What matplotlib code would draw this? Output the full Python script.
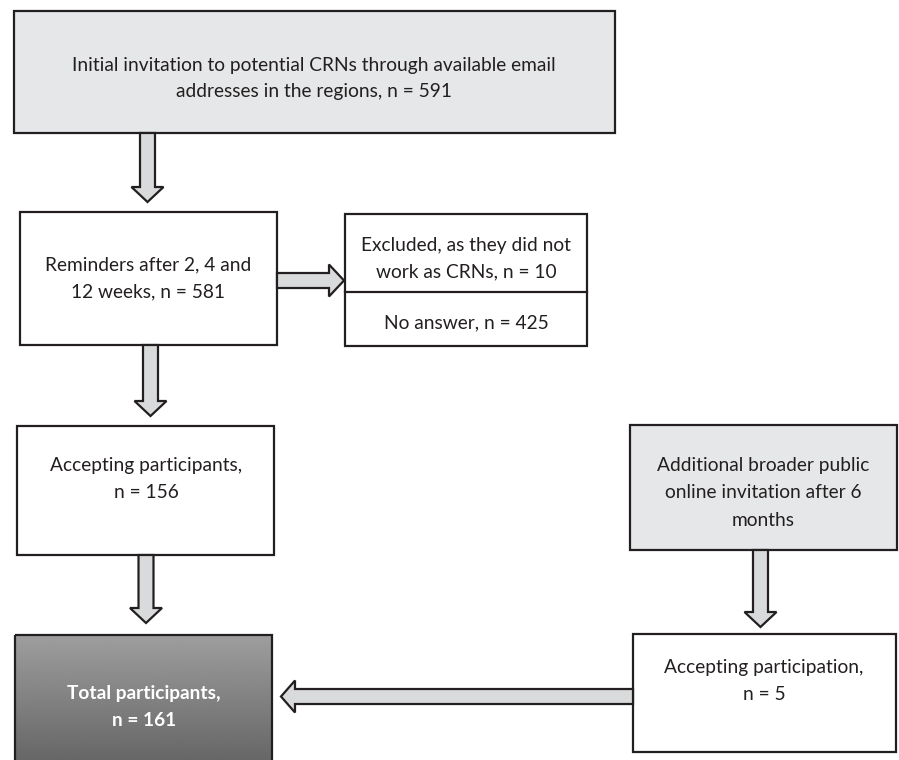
import numpy as np
import matplotlib.pyplot as plt
from matplotlib.patches import Rectangle, Polygon

plt.rcParams['font.family'] = ['Lato', 'DejaVu Sans']

# box texts
txt_initial = ["Initial invitation to potential CRNs through available email",
               "addresses in the regions, n = 591"]
txt_remind = ["Reminders after 2, 4 and", "12 weeks, n = 581"]
txt_excluded = ["Excluded, as they did not", "work as CRNs, n = 10"]
txt_noanswer = ["No answer, n = 425"]
txt_accept = ["Accepting participants,", "n = 156"]
txt_total = ["Total participants,", "n = 161"]
txt_additional = ["Additional broader public", "online invitation after 6", "months"]
txt_accept5 = ["Accepting participation,", "n = 5"]

EDGE = '#231f20'
LIGHT = '#e6e7e8'
ARROW = '#d9dadb'
TXT = '#231f20'

fig = plt.figure(figsize=(8.99, 7.6), dpi=100)
ax = fig.add_axes([0, 0, 1, 1])
ax.set_xlim(0, 899)
ax.set_ylim(760, 0)
ax.axis('off')


def box(x0, y0, x1, y1, fc='white'):
    r = Rectangle((x0, y0), x1 - x0, y1 - y0, facecolor=fc, edgecolor=EDGE, lw=1.6, zorder=2)
    ax.add_patch(r)
    return r


def lines(xc, ys, texts, color=TXT, weight='normal'):
    for y, t in zip(ys, texts):
        ax.text(xc, y, t, ha='center', va='center', fontsize=13.8, color=color,
                fontweight=weight, zorder=5)


def arrow_down(xc, y0, ytip, sw=7.5, hw=16, hl=15):
    pts = [(xc - sw, y0), (xc + sw, y0), (xc + sw, ytip - hl), (xc + hw, ytip - hl),
           (xc, ytip), (xc - hw, ytip - hl), (xc - sw, ytip - hl)]
    ax.add_patch(Polygon(pts, closed=True, facecolor=ARROW, edgecolor=EDGE, lw=1.6, zorder=3))


def arrow_h(yc, x0, xtip, sw=7.5, hw=16, hl=15):
    d = 1 if xtip > x0 else -1
    pts = [(x0, yc - sw), (xtip - d * hl, yc - sw), (xtip - d * hl, yc - hw), (xtip, yc),
           (xtip - d * hl, yc + hw), (xtip - d * hl, yc + sw), (x0, yc + sw)]
    ax.add_patch(Polygon(pts, closed=True, facecolor=ARROW, edgecolor=EDGE, lw=1.6, zorder=3))


# top box
box(14, 11, 615, 133, fc=LIGHT)
lines(314, [65, 92], txt_initial)

# reminders
box(20, 212, 277, 345)
lines(148, [265, 292], txt_remind)

# excluded / no answer
box(345, 214, 587, 346)
ax.plot([345, 587], [292, 292], color=EDGE, lw=1.6, zorder=3)
lines(466, [245, 272], txt_excluded)
lines(466, [323], txt_noanswer)

# accepting participants
box(17, 426, 274, 555)
lines(146, [465, 492], txt_accept)

# total participants (dark gradient)
tx0, ty0, tx1, ty1 = 15, 635, 272, 762
grad = np.linspace(0.62, 0.40, 256).reshape(-1, 1)
im = ax.imshow(grad, cmap='gray', vmin=0, vmax=1, extent=[tx0, tx1, ty1, ty0],
               aspect='auto', zorder=1)
frame = box(tx0, ty0, tx1, ty1, fc='none')
im.set_clip_path(frame)
lines(144, [693, 720], txt_total, color='white', weight='bold')

# additional invitation
box(630, 425, 897, 550, fc=LIGHT)
lines(763, [465, 492, 520], txt_additional)

# accepting participation
box(633, 634, 896, 752)
lines(764, [668, 695], txt_accept5)

# arrows
arrow_down(147.5, 133, 202)
arrow_h(280.5, 277, 344)
arrow_down(150.5, 345, 416)
arrow_down(146, 555, 623)
arrow_down(760.5, 550, 627)
arrow_h(696.5, 633, 281, hl=14)

fig.savefig('out.png', dpi=100)
